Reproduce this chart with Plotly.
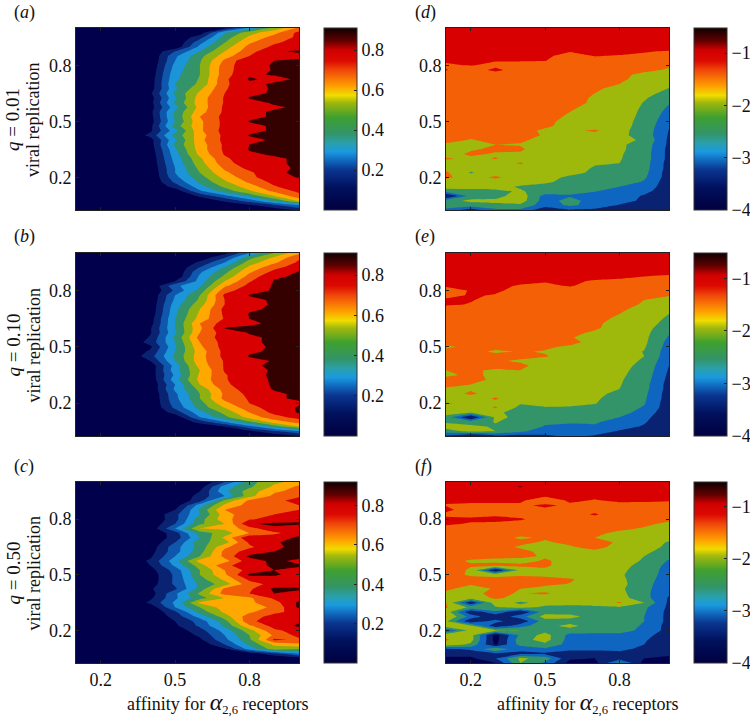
import plotly.graph_objects as go

x_vals = [0.1, 0.2, 0.3, 0.4, 0.5, 0.6, 0.7, 0.8, 0.9, 1.0]
y_vals = [1.0, .975, .95, .925, .9, .875, .85, .825, .8, .775, .75, .725, .7, .675, .65, .625, .6, .575, .55, .525,
          .5, .475, .45, .425, .4, .375, .35, .325, .3, .275, .25, .225, .2, .175, .15, .125, .1, .075, .05, .025]

panel_a = [
[0,0,0,0,0,0,.08,.33,.53,.72],
[0,0,0,0,0,.04,.39,.56,.67,.83],
[0,0,0,0,0,.16,.45,.62,.74,.82],
[0,0,0,0,0,.26,.49,.68,.78,.84],
[0,0,0,0,.02,.33,.55,.73,.82,.85],
[0,0,0,0,.2,.4,.6,.76,.89,.91],
[0,0,0,0,.28,.47,.65,.8,.87,.88],
[0,0,0,0,.3,.49,.72,.89,.9,.91],
[0,0,0,.01,.33,.5,.75,.88,.905,.91],
[0,0,0,.02,.35,.5,.76,.87,.905,.91],
[0,0,0,.03,.37,.5,.76,.89,.905,.91],
[0,0,0,.04,.38,.51,.78,.91,.88,.91],
[0,0,0,.04,.4,.52,.78,.88,.91,.91],
[0,0,0,.05,.38,.58,.79,.87,.91,.91],
[0,0,0,.08,.42,.62,.8,.88,.91,.91],
[0,0,0,.05,.38,.65,.81,.905,.91,.91],
[0,0,0,.06,.42,.65,.81,.87,.91,.91],
[0,0,0,.05,.36,.64,.82,.86,.89,.91],
[0,0,0,.07,.42,.66,.82,.88,.91,.91],
[0,0,0,.06,.42,.7,.83,.88,.91,.91],
[0,0,0,.05,.4,.68,.83,.905,.91,.91],
[0,0,0,.07,.45,.68,.83,.88,.91,.91],
[0,0,0,.08,.36,.68,.84,.88,.91,.91],
[0,0,0,.13,.44,.65,.83,.905,.91,.91],
[0,0,0,.06,.38,.67,.83,.88,.91,.91],
[0,0,0,.05,.42,.65,.82,.9,.91,.91],
[0,0,0,.04,.38,.65,.82,.905,.91,.91],
[0,0,0,.03,.36,.63,.81,.89,.91,.91],
[0,0,0,.02,.34,.58,.78,.87,.89,.91],
[0,0,0,.02,.32,.56,.76,.86,.89,.91],
[0,0,0,.01,.3,.53,.72,.83,.88,.91],
[0,0,0,0,.3,.5,.68,.78,.89,.91],
[0,0,0,0,.27,.46,.63,.77,.87,.905],
[0,0,0,0,.22,.42,.58,.72,.83,.88],
[0,0,0,0,.14,.36,.52,.65,.79,.86],
[0,0,0,0,.03,.28,.44,.58,.72,.82],
[0,0,0,0,0,.12,.27,.42,.6,.76],
[0,0,0,0,0,.03,.12,.25,.42,.62],
[0,0,0,0,0,0,.03,.08,.18,.3],
[0,0,0,0,0,0,0,.01,.04,.12],
]

panel_b = [
[0,0,0,0,0,0,.06,.3,.5,.68],
[0,0,0,0,0,.03,.2,.47,.62,.78],
[0,0,0,0,0,.12,.3,.55,.68,.82],
[0,0,0,0,0,.2,.4,.62,.76,.86],
[0,0,0,0,0,.28,.47,.68,.83,.905],
[0,0,0,0,.01,.32,.52,.74,.89,.91],
[0,0,0,0,.1,.34,.6,.79,.905,.91],
[0,0,0,0,.28,.38,.68,.83,.91,.91],
[0,0,0,0,.22,.44,.76,.86,.91,.91],
[0,0,0,.01,.3,.5,.82,.905,.91,.91],
[0,0,0,.01,.32,.52,.8,.88,.91,.91],
[0,0,0,.02,.35,.56,.8,.87,.91,.91],
[0,0,0,.02,.37,.6,.83,.89,.91,.91],
[0,0,0,.03,.38,.62,.82,.905,.91,.91],
[0,0,0,.05,.4,.64,.81,.9,.91,.91],
[0,0,0,.06,.4,.7,.85,.89,.91,.91],
[0,0,0,.09,.4,.68,.905,.91,.91,.91],
[0,0,0,.09,.38,.7,.85,.905,.91,.91],
[0,0,0,.11,.42,.74,.84,.89,.91,.91],
[0,0,0,.14,.4,.7,.84,.89,.91,.91],
[0,0,0,.08,.38,.68,.84,.89,.905,.91],
[0,0,0,.12,.4,.65,.83,.89,.91,.91],
[0,0,0,.16,.42,.66,.83,.905,.91,.91],
[0,0,0,.1,.4,.66,.81,.88,.905,.91],
[0,0,0,.03,.34,.64,.81,.89,.91,.91],
[0,0,0,.03,.36,.6,.81,.87,.91,.91],
[0,0,0,.04,.32,.62,.79,.88,.91,.91],
[0,0,0,.02,.36,.63,.79,.87,.91,.91],
[0,0,0,.01,.3,.6,.78,.86,.91,.91],
[0,0,0,.01,.32,.53,.74,.86,.905,.91],
[0,0,0,0,.28,.5,.72,.83,.89,.91],
[0,0,0,0,.27,.5,.73,.81,.89,.91],
[0,0,0,0,.25,.46,.67,.8,.87,.89],
[0,0,0,0,.22,.44,.6,.76,.85,.91],
[0,0,0,0,.14,.36,.53,.7,.83,.91],
[0,0,0,0,.03,.3,.47,.64,.76,.84],
[0,0,0,0,0,.14,.3,.48,.65,.74],
[0,0,0,0,0,.02,.1,.26,.44,.6],
[0,0,0,0,0,0,.02,.08,.18,.28],
[0,0,0,0,0,0,0,.01,.03,.1],
]

panel_c = [
[0,0,0,0,0,0,.2,.46,.58,.63],
[0,0,0,0,0,.05,.35,.48,.62,.72],
[0,0,0,0,0,.1,.38,.55,.68,.74],
[0,0,0,0,0,.14,.3,.56,.73,.78],
[0,0,0,0,.02,.15,.52,.72,.76,.85],
[0,0,0,0,.04,.35,.62,.74,.78,.8],
[0,0,0,.01,.1,.42,.7,.76,.79,.8],
[0,0,0,.01,.17,.4,.65,.78,.8,.86],
[0,0,0,.01,.16,.46,.66,.79,.83,.88],
[0,0,0,.02,.2,.48,.6,.89,.92,.91],
[0,0,0,.03,.3,.6,.62,.76,.88,.86],
[0,0,0,.01,.15,.45,.55,.7,.78,.85],
[0,0,0,.02,.14,.4,.62,.89,.85,.92],
[0,0,0,.02,.2,.47,.55,.82,.89,.93],
[0,0,0,.04,.26,.44,.68,.78,.88,.93],
[0,0,0,.06,.26,.46,.73,.85,.9,.93],
[0,0,0,.08,.3,.5,.73,.92,.93,.93],
[0,0,0,.12,.36,.64,.66,.86,.92,.88],
[0,0,0,.1,.32,.55,.78,.85,.92,.91],
[0,0,0,.06,.24,.5,.7,.84,.9,.88],
[0,0,0,.04,.22,.5,.68,.92,.92,.85],
[0,0,0,.04,.22,.46,.62,.82,.84,.82],
[0,0,0,.05,.22,.42,.55,.76,.83,.85],
[0,0,0,.09,.18,.44,.72,.78,.92,.92],
[0,0,0,.05,.28,.52,.74,.8,.9,.86],
[0,0,0,.08,.28,.46,.6,.68,.82,.85],
[0,0,0,.12,.32,.62,.66,.68,.76,.92],
[0,0,0,.03,.3,.5,.65,.65,.72,.92],
[0,0,0,.01,.18,.44,.62,.68,.78,.83],
[0,0,0,0,.14,.34,.55,.76,.83,.85],
[0,0,0,0,.1,.24,.46,.78,.85,.88],
[0,0,0,0,.08,.22,.42,.68,.84,.92],
[0,0,0,0,.04,.16,.34,.56,.78,.84],
[0,0,0,0,.02,.12,.3,.5,.72,.83],
[0,0,0,0,0,.08,.27,.48,.82,.78],
[0,0,0,0,0,.02,.2,.42,.62,.68],
[0,0,0,0,0,0,.08,.34,.55,.5],
[0,0,0,0,0,0,.01,.05,.15,.3],
[0,0,0,0,0,0,0,0,.02,.06],
[0,0,0,0,0,0,0,0,0,.01],
]

panel_d = [
[-.75,-.75,-.75,-.75,-.75,-.75,-.75,-.75,-.75,-.75],
[-.8,-.8,-.8,-.8,-.8,-.8,-.8,-.8,-.8,-.8],
[-.8,-.8,-.8,-.8,-.8,-.8,-.8,-.8,-.8,-.8],
[-.82,-.82,-.82,-.82,-.82,-.82,-.82,-.82,-.82,-.82],
[-.85,-.85,-.85,-.85,-.85,-.85,-.85,-.85,-.85,-.88],
[-.85,-.85,-.88,-.9,-.9,-.98,-.92,-.92,-.98,-1.02],
[-.9,-.9,-.93,-.95,-.95,-1.1,-.99,-1.02,-1.05,-1.1],
[-.95,-.98,-.98,-.98,-.99,-1.2,-1.1,-1.1,-1.15,-1.25],
[-1.05,-.98,-1.1,-1.1,-1.1,-1.2,-1.15,-1.2,-1.3,-1.45],
[-.98,-1.2,-.9,-1.2,-1.2,-1.2,-1.25,-1.3,-1.4,-1.55],
[-1.2,-1.2,-1.2,-1.2,-1.25,-1.25,-1.3,-1.4,-1.6,-1.66],
[-1.2,-1.2,-1.2,-1.25,-1.3,-1.35,-1.35,-1.45,-1.6,-1.78],
[-1.2,-1.2,-1.25,-1.25,-1.3,-1.35,-1.4,-1.5,-1.65,-1.9],
[-1.2,-1.2,-1.25,-1.25,-1.3,-1.35,-1.45,-1.6,-1.75,-2.02],
[-1.2,-1.25,-1.25,-1.25,-1.3,-1.35,-1.5,-1.65,-1.85,-2.15],
[-1.25,-1.25,-1.25,-1.25,-1.3,-1.35,-1.55,-1.7,-1.95,-2.3],
[-1.25,-1.25,-1.25,-1.25,-1.3,-1.4,-1.55,-1.75,-2.02,-2.45],
[-1.25,-1.25,-1.3,-1.3,-1.32,-1.45,-1.6,-1.78,-2.05,-2.56],
[-1.3,-1.3,-1.3,-1.3,-1.35,-1.5,-1.65,-1.8,-2.08,-2.66],
[-1.3,-1.3,-1.3,-1.35,-1.38,-1.55,-1.68,-1.82,-2.1,-2.76],
[-1.52,-1.32,-1.3,-1.35,-1.42,-1.6,-1.7,-1.85,-2.12,-2.86],
[-1.35,-1.35,-1.35,-1.4,-1.45,-1.6,-1.72,-1.85,-2.15,-2.95],
[-1.35,-1.35,-1.35,-1.4,-1.55,-1.62,-1.42,-1.88,-2.18,-3.02],
[-1.35,-1.42,-1.4,-1.42,-1.52,-1.65,-1.72,-1.88,-2.2,-3.05],
[-1.4,-1.52,-1.42,-1.45,-1.6,-1.7,-1.75,-1.9,-2.05,-3.1],
[-1.55,-1.52,-1.5,-1.52,-1.65,-1.72,-1.78,-1.92,-2.2,-3.1],
[-1.7,-1.55,-1.42,-1.45,-1.7,-1.75,-1.8,-1.92,-2.22,-3.15],
[-1.7,-1.42,-1.55,-1.55,-1.75,-1.78,-1.82,-1.95,-2.25,-3.15],
[-1.45,-1.6,-1.48,-1.7,-1.75,-1.8,-1.85,-1.97,-2.25,-3.15],
[-1.7,-1.75,-1.7,-1.45,-1.78,-1.85,-1.98,-2.0,-2.28,-3.2],
[-1.65,-1.8,-1.75,-1.7,-1.8,-1.9,-2.02,-2.1,-2.3,-3.2],
[-1.42,-2.05,-1.7,-1.7,-1.82,-1.92,-2.05,-2.0,-2.35,-3.25],
[-1.42,-1.7,-1.42,-1.75,-1.9,-2.05,-2.1,-2.2,-2.42,-3.25],
[-1.7,-1.7,-1.7,-1.8,-1.95,-2.1,-2.2,-2.25,-2.55,-3.3],
[-1.75,-1.8,-1.85,-2.05,-2.1,-2.2,-2.3,-2.5,-2.7,-3.3],
[-2.3,-2.2,-2.1,-1.95,-2.2,-2.35,-2.48,-2.7,-2.85,-3.35],
[-3.6,-2.3,-2.2,-1.7,-2.7,-2.55,-2.7,-2.75,-3.05,-3.4],
[-2.2,-1.9,-1.9,-1.75,-2.75,-2.3,-2.75,-2.8,-3.1,-3.45],
[-2.3,-2.2,-2.1,-2.1,-2.8,-2.4,-2.7,-3.05,-3.2,-3.45],
[-2.6,-3.3,-2.6,-2.6,-3.4,-3.05,-3.1,-3.25,-3.4,-3.5],
]

panel_e = [
[-.75,-.75,-.75,-.75,-.75,-.75,-.75,-.75,-.75,-.75],
[-.8,-.8,-.8,-.8,-.8,-.8,-.8,-.8,-.8,-.8],
[-.8,-.8,-.8,-.8,-.8,-.8,-.8,-.8,-.8,-.8],
[-.82,-.82,-.82,-.82,-.82,-.82,-.82,-.82,-.82,-.82],
[-.85,-.85,-.85,-.85,-.85,-.85,-.85,-.85,-.85,-.88],
[-.85,-.85,-.85,-.85,-.85,-.85,-.9,-.95,-1.0,-1.05],
[-.9,-.9,-.9,-.95,-.98,-.95,-1.03,-1.05,-1.08,-1.1],
[-.9,-.9,-.95,-1.02,-1.05,-.98,-1.1,-1.1,-1.15,-1.2],
[-1.3,-.95,-.95,-1.1,-1.1,-1.1,-1.15,-1.2,-1.25,-1.3],
[-1.1,-.97,-1.02,-1.15,-1.15,-1.15,-1.2,-1.25,-1.35,-1.48],
[-.95,-.98,-1.1,-1.2,-1.2,-1.2,-1.25,-1.3,-1.5,-1.6],
[-.95,-1.02,-1.15,-1.2,-1.2,-1.25,-1.3,-1.35,-1.55,-1.7],
[-1.2,-1.1,-1.2,-1.25,-1.25,-1.3,-1.35,-1.45,-1.6,-1.85],
[-1.2,-1.2,-1.2,-1.3,-1.3,-1.35,-1.4,-1.5,-1.65,-2.0],
[-1.2,-1.2,-1.25,-1.3,-1.3,-1.35,-1.42,-1.55,-1.7,-2.1],
[-1.25,-1.3,-1.3,-1.3,-1.35,-1.35,-1.45,-1.6,-1.75,-2.2],
[-1.25,-1.3,-1.3,-1.3,-1.35,-1.4,-1.45,-1.65,-1.8,-2.35],
[-1.3,-1.3,-1.3,-1.3,-1.35,-1.42,-1.55,-1.7,-1.85,-2.45],
[-1.3,-1.3,-1.3,-1.3,-1.4,-1.48,-1.6,-1.72,-1.88,-2.55],
[-1.3,-1.35,-1.3,-1.35,-1.4,-1.4,-1.62,-1.75,-1.9,-2.65],
[-1.6,-1.35,-1.4,-1.4,-1.45,-1.55,-1.65,-1.78,-1.95,-2.7],
[-1.35,-1.4,-1.55,-1.48,-1.52,-1.6,-1.65,-1.8,-2.02,-2.75],
[-1.4,-1.4,-1.4,-1.4,-1.48,-1.6,-1.7,-1.82,-2.0,-2.8],
[-1.4,-1.42,-1.45,-1.55,-1.6,-1.65,-1.75,-1.85,-2.05,-2.9],
[-1.45,-1.45,-1.45,-1.42,-1.65,-1.7,-1.75,-1.88,-2.1,-3.0],
[-1.5,-1.48,-1.52,-1.5,-1.7,-1.75,-1.8,-1.9,-2.15,-3.05],
[-1.55,-1.45,-1.55,-1.6,-1.75,-1.75,-1.82,-1.92,-2.2,-3.1],
[-1.42,-1.42,-1.55,-1.7,-1.78,-1.8,-1.85,-1.95,-2.25,-3.15],
[-1.42,-1.5,-1.7,-1.75,-1.8,-1.82,-1.88,-1.97,-2.3,-3.2],
[-1.55,-1.55,-1.72,-1.78,-1.82,-1.85,-1.9,-2.0,-2.33,-3.2],
[-1.7,-1.42,-1.7,-1.8,-1.85,-1.88,-1.92,-2.08,-2.38,-3.25],
[-1.75,-1.75,-1.45,-1.85,-1.88,-1.9,-1.95,-2.15,-2.42,-3.25],
[-2.02,-1.95,-1.6,-1.95,-1.92,-1.95,-1.98,-2.2,-2.46,-3.3],
[-1.9,-1.8,-1.45,-2.15,-2.02,-2.02,-2.08,-2.25,-2.55,-3.3],
[-1.75,-2.0,-1.9,-2.2,-2.2,-2.2,-2.2,-2.3,-2.7,-3.35],
[-2.2,-3.6,-1.9,-2.1,-2.25,-2.3,-2.35,-2.5,-2.85,-3.4],
[-2.05,-2.2,-1.98,-2.15,-2.4,-2.45,-2.45,-2.65,-2.95,-3.4],
[-1.85,-1.9,-2.05,-2.05,-2.55,-2.6,-2.55,-2.8,-3.05,-3.45],
[-2.2,-1.9,-2.0,-2.4,-2.75,-2.65,-2.75,-3.05,-3.2,-3.45],
[-3.1,-3.6,-3.1,-3.2,-3.1,-2.9,-3.05,-3.3,-3.4,-3.45],
]

panel_f = [
[-.9,-.9,-.9,-.9,-.9,-.9,-.9,-.9,-.9,-.9],
[-.9,-.9,-.9,-.45,-.85,-.9,-.9,-.9,-.9,-.9],
[-.9,-.9,-.9,-.85,-.9,-.9,-.9,-.9,-.9,-.9],
[-.95,-.95,-.95,-.95,-.95,-.95,-.95,-.95,-.95,-.95],
[-.95,-.95,-.95,-.95,-1.2,-.95,-1.02,-.95,-.95,-.98],
[-1.02,-1.05,-1.05,-1.05,-.95,-1.05,-1.05,-1.08,-1.1,-1.1],
[-.9,-1.2,-1.2,-1.15,-1.05,-1.15,-1.15,-1.2,-1.25,-1.25],
[-1.1,-1.2,-1.1,-1.15,-1.2,-1.2,-.95,-1.25,-1.3,-1.3],
[-.9,-.9,-.85,-.95,-1.2,-1.25,-1.25,-1.3,-1.35,-1.45],
[-.9,-1.05,-1.1,-1.15,-1.25,-1.3,-1.3,-1.4,-1.45,-1.55],
[-1.2,-1.2,-1.2,-1.3,-1.3,-1.35,-1.4,-1.45,-1.52,-1.65],
[-1.25,-1.3,-1.3,-1.35,-1.35,-1.4,-1.45,-1.55,-1.6,-1.7],
[-1.3,-1.3,-1.35,-1.55,-1.45,-1.45,-1.5,-1.6,-1.7,-1.85],
[-1.3,-1.3,-1.3,-1.4,-1.55,-1.4,-1.35,-1.55,-1.7,-2.05],
[-1.3,-1.3,-1.35,-1.55,-1.6,-1.55,-1.35,-1.65,-1.8,-2.1],
[-1.3,-1.3,-1.4,-1.4,-1.6,-1.6,-1.6,-1.7,-1.9,-2.2],
[-1.35,-1.35,-1.4,-1.4,-1.55,-1.6,-1.7,-1.75,-2.0,-2.35],
[-1.35,-1.55,-1.6,-1.65,-1.45,-1.65,-1.7,-1.8,-2.05,-2.55],
[-1.35,-1.45,-1.35,-1.4,-1.45,-1.65,-1.7,-1.85,-2.15,-2.65],
[-1.1,-1.6,-3.6,-1.8,-1.55,-1.7,-1.75,-1.9,-2.2,-2.7],
[-1.35,-1.55,-1.6,-1.55,-1.6,-1.7,-1.75,-1.95,-2.2,-2.75],
[-1.2,-1.4,-1.4,-1.35,-1.35,-1.45,-1.7,-1.9,-2.25,-2.8],
[-1.35,-1.45,-1.35,-1.4,-1.4,-1.52,-1.7,-1.85,-2.3,-2.85],
[-1.4,-1.7,-1.45,-1.5,-1.65,-1.7,-1.75,-1.9,-2.35,-2.85],
[-1.6,-1.55,-1.45,-1.52,-1.45,-1.7,-1.72,-1.85,-2.35,-2.95],
[-1.65,-1.7,-1.45,-1.6,-1.7,-1.72,-1.75,-1.8,-2.3,-3.05],
[-1.5,-3.4,-1.7,-2.1,-1.8,-1.8,-1.75,-1.45,-2.0,-3.1],
[-1.45,-2.1,-2.05,-1.8,-2.1,-2.15,-2.1,-2.05,-2.4,-3.1],
[-1.7,-3.4,-2.6,-3.5,-2.2,-2.2,-2.15,-2.15,-2.45,-3.15],
[-1.45,-2.7,-3.4,-2.7,-1.8,-1.85,-2.2,-2.25,-2.5,-3.15],
[-1.9,-3.4,-2.8,-3.4,-2.2,-2.2,-2.25,-2.3,-2.5,-3.15],
[-1.6,-1.9,-3.4,-2.7,-2.15,-1.85,-2.25,-2.3,-2.55,-3.2],
[-3.1,-1.8,-1.9,-2.0,-2.2,-2.2,-2.3,-2.35,-2.6,-3.2],
[-1.6,-1.8,-3.7,-2.4,-1.8,-2.65,-2.65,-2.6,-2.85,-3.25],
[-1.45,-1.8,-3.7,-2.2,-1.8,-2.7,-2.7,-2.8,-2.95,-3.3],
[-1.7,-2.1,-3.6,-2.3,-2.1,-2.7,-2.75,-2.8,-3.0,-3.3],
[-3.1,-2.9,-2.0,-2.9,-2.6,-2.9,-2.9,-2.9,-3.1,-3.35],
[-3.3,-3.3,-3.1,-3.1,-3.1,-3.2,-3.2,-3.1,-3.2,-3.4],
[-3.6,-3.6,-3.0,-1.9,-2.2,-3.4,-3.5,-3.2,-3.5,-3.6],
[-3.7,-3.7,-3.5,-2.0,-2.6,-3.7,-3.7,-2.3,-3.7,-3.7],
]

x_ticks = [0.2, 0.5, 0.8]
y_ticks = [0.2, 0.5, 0.8]
left_cbar_ticks = [0.2, 0.4, 0.6, 0.8]
right_cbar_ticks = [-4, -3, -2, -1]
q_labels = ["0.01", "0.10", "0.50"]
letters = ["a", "b", "c", "d", "e", "f"]

band_colors_left = ["#00004c", "#0a2272", "#0f57ad", "#1b94d8", "#329468", "#8fb011",
                    "#ffa800", "#f25c06", "#d80000", "#350000"]
band_colors_right = ["#00004c", "#0a2272", "#0f66c0", "#329468", "#9fb80c", "#f46005", "#d80000", "#3a0000"]

smooth = [[0, "#000040"], [.12, "#00105c"], [.22, "#0a3590"], [.27, "#1066bc"], [.32, "#1a9ae0"],
          [.37, "#2aa0a8"], [.42, "#329468"], [.51, "#3fa030"], [.59, "#a0b80c"], [.63, "#f0dc00"],
          [.68, "#ffa000"], [.77, "#f0450a"], [.82, "#dc0a00"], [.88, "#d00000"], [.93, "#600000"], [1, "#100000"]]


def steps(colors):
    out = []
    n = len(colors)
    for i, c in enumerate(colors):
        out += [[i / n, c], [(i + 1) / n, c]]
    return out


W, H = 750, 720
tops = [28, 253, 482]
hs = [182, 183, 181]
lefts = [76, 446]
pw = 223
cb_left = [324, 694]
cb_w = 33
font = "Liberation Serif"

panels = [panel_a, panel_b, panel_c, panel_d, panel_e, panel_f]
fig = go.Figure()
layout = {}
anns = []
for k, data in enumerate(panels):
    col = k // 3
    row = k % 3
    ax = "" if k == 0 else str(k + 1)
    x0 = lefts[col]
    t = tops[row]
    h = hs[row]
    if col == 0:
        lo, hi, size, colors = 0.0, 1.0, 0.1, band_colors_left
        cmin, cmax = 0.0, 0.92 if row == 2 else 0.91
        tv = left_cbar_ticks
        tt = ["%.1f" % v for v in tv]
    else:
        lo, hi, size, colors = -4.0, 0.0, 0.5, band_colors_right
        cmin, cmax = -4.0, -0.52
        tv = right_cbar_ticks
        tt = ["\u2212%d" % abs(v) for v in tv]
    fig.add_trace(go.Contour(
        x=x_vals, y=y_vals[::-1], z=data[::-1], xaxis="x" + ax, yaxis="y" + ax,
        colorscale=steps(colors), zmin=lo, zmax=lo + size * len(colors), showscale=False,
        autocontour=False, line=dict(width=0, smoothing=0),
        contours=dict(coloring="fill", start=lo + size, end=lo + size * (len(colors) - 1), size=size, showlines=False),
        hoverinfo="skip"))
    fig.add_trace(go.Scatter(
        x=[x_vals[0]], y=[y_vals[0]], xaxis="x" + ax, yaxis="y" + ax, mode="markers", hoverinfo="skip",
        showlegend=False,
        marker=dict(size=1, opacity=0, color=[cmin], cmin=cmin, cmax=cmax, colorscale=smooth, showscale=True,
                    colorbar=dict(x=cb_left[col] / W, xanchor="left", xref="paper", y=1 - t / H, yanchor="top", yref="paper",
                                  len=h, lenmode="pixels", thickness=cb_w, thicknessmode="pixels", xpad=0, ypad=0,
                                  outlinewidth=1, outlinecolor="#333", tickvals=tv, ticktext=tt, ticks="inside",
                                  ticklen=3, tickcolor="#222",
                                  tickfont=dict(family=font, size=18, color="#111")))))
    layout["xaxis" + ax] = dict(domain=[x0 / W, (x0 + pw) / W], range=[0.1, 1.0], anchor="y" + ax, tickvals=x_ticks,
                                showticklabels=row == 2, ticks="inside", ticklen=3, tickcolor="#222", mirror="ticks",
                                showline=True, linecolor="#222", linewidth=1, showgrid=False, zeroline=False,
                                tickformat=".1f", tickfont=dict(family=font, size=18, color="#111"))
    layout["yaxis" + ax] = dict(domain=[1 - (t + h) / H, 1 - t / H], range=[0.025, 1.0], anchor="x" + ax, tickvals=y_ticks,
                                ticks="inside", ticklen=3, tickcolor="#222", mirror="ticks", showline=True,
                                linecolor="#222", linewidth=1, showgrid=False, zeroline=False, tickformat=".1f",
                                tickfont=dict(family=font, size=18, color="#111"))
    lx = 12 if col == 0 else 413
    anns.append(dict(text="(<i>%s</i>)" % letters[k], x=lx / W, y=1 - (t - 16) / H, xref="paper", yref="paper",
                     xanchor="left", yanchor="middle", showarrow=False, font=dict(family=font, size=18, color="#111")))
    if col == 0:
        cy = t + h / 2 + 1
        anns.append(dict(text="<i>q</i> = %s" % q_labels[row], x=13 / W, y=1 - cy / H, xref="paper", yref="paper",
                         xanchor="center", yanchor="middle", textangle=-90, showarrow=False,
                         font=dict(family=font, size=19, color="#111")))
        anns.append(dict(text="viral replication", x=33 / W, y=1 - cy / H, xref="paper", yref="paper",
                         xanchor="center", yanchor="middle", textangle=-90, showarrow=False,
                         font=dict(family=font, size=18, color="#111")))

for cx in (217, 587):
    anns.append(dict(text="affinity for <i><span style='font-size:24px'>\u03b1</span></i><sub>2,6</sub> receptors",
                     x=cx / W, y=1 - 703 / H, xref="paper", yref="paper", xanchor="center", yanchor="middle", showarrow=False,
                     font=dict(family=font, size=18, color="#111")))

fig.update_layout(width=W, height=H, margin=dict(l=0, r=0, t=0, b=0, autoexpand=False), paper_bgcolor="white",
                  plot_bgcolor="#00004c", showlegend=False, annotations=anns, **layout)
fig.write_html("out.html", config=dict(displayModeBar=False),
               post_script="document.body.style.margin='0';document.documentElement.style.overflow='hidden';")
